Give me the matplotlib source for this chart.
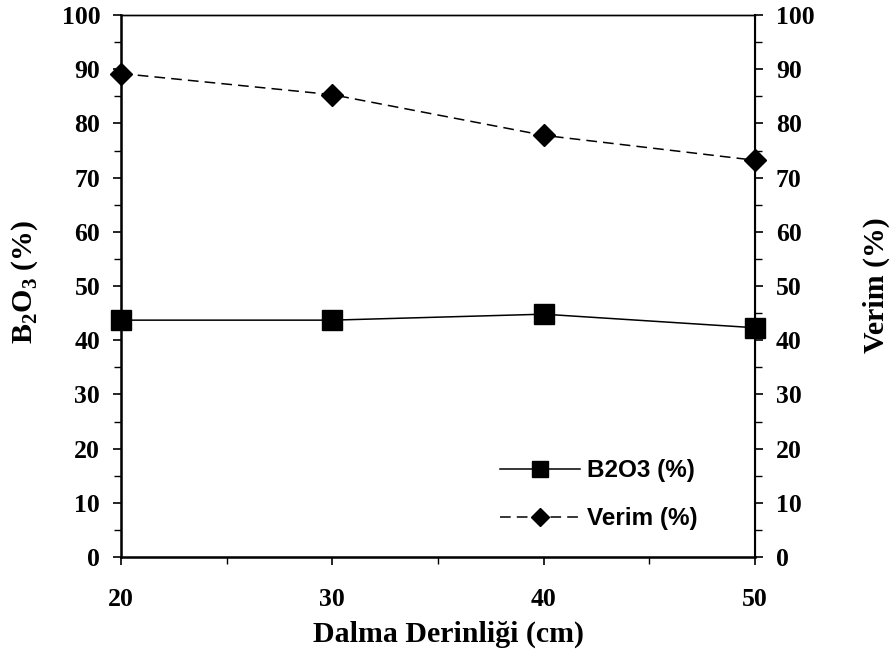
import matplotlib
matplotlib.use('Agg')
import matplotlib.pyplot as plt
from matplotlib.ticker import MultipleLocator

# data
depth = [20, 30, 40, 50]
b2o3 = [43.7, 43.7, 44.8, 42.3]
verim = [89.2, 85.3, 77.8, 73.2]

serif = ['Liberation Serif', 'DejaVu Serif']
sans = ['Liberation Sans', 'DejaVu Sans']

plt.rcParams['font.family'] = serif
plt.rcParams['font.weight'] = 'bold'
plt.rcParams['font.size'] = 18.5
plt.rcParams['mathtext.fontset'] = 'custom'
plt.rcParams['mathtext.bf'] = 'Liberation Serif:bold'
plt.rcParams['mathtext.rm'] = 'Liberation Serif:bold'

W, H = 896, 656
fig = plt.figure(figsize=(W / 100, H / 100), dpi=100)
ax = fig.add_axes([121 / W, 1 - 557 / H, (755 - 121) / W, (557 - 15) / H])

l1, = ax.plot(depth, b2o3, color='black', lw=1.1, marker='s', markersize=14,
              label='B2O3 (%)', clip_on=False, zorder=5)
l2, = ax.plot(depth, verim, color='black', lw=1.1, ls=(0, (7, 4)), marker='D',
              markersize=11.5, label='Verim (%)', clip_on=False, zorder=5)

ax.set_xlim(20, 50)
ax.set_ylim(0, 100)
ax.xaxis.set_major_locator(MultipleLocator(10))
ax.xaxis.set_minor_locator(MultipleLocator(5))
ax.yaxis.set_major_locator(MultipleLocator(10))
ax.yaxis.set_minor_locator(MultipleLocator(5))

# right axis with the same scale
ax2 = ax.twinx()
ax2.set_ylim(0, 100)
ax2.yaxis.set_major_locator(MultipleLocator(10))
ax2.yaxis.set_minor_locator(MultipleLocator(5))

for a in (ax, ax2):
    a.tick_params(which='major', direction='out', length=6, width=1.2, labelsize=18.5, pad=9)
    a.tick_params(which='minor', direction='out', length=5, width=1.0)

ax.tick_params(axis='x', which='major', pad=16)
ax.spines['left'].set_linewidth(1.8)
ax.spines['bottom'].set_linewidth(1.8)
ax.spines['top'].set_linewidth(1.0)
ax2.spines['right'].set_linewidth(1.5)
ax2.spines['top'].set_linewidth(1.0)

# axis titles placed by pixel position
fig.text(448 / W, 1 - 634 / H, 'Dalma Derinliği (cm)', ha='center', va='center',
         fontsize=21.5, fontweight='bold')
fig.text(25 / W, 1 - 282 / H, r'B$_\mathbf{2}$O$_\mathbf{3}$ (%)', ha='center', va='center',
         rotation=90, fontsize=21.5, fontweight='bold')
fig.text(876 / W, 1 - 285 / H, 'Verim (%)', ha='center', va='center', rotation=90,
         fontsize=21.5, fontweight='bold')

leg = ax.legend(handles=[l1, l2], loc='upper left', bbox_to_anchor=(0.598, 0.18),
                frameon=False, handlelength=3.3, handletextpad=0.29, labelspacing=1.03,
                borderpad=0, borderaxespad=0, markerscale=0.8,
                prop={'family': sans, 'weight': 'bold', 'size': 17.5})

fig.savefig('out.png', dpi=100)
